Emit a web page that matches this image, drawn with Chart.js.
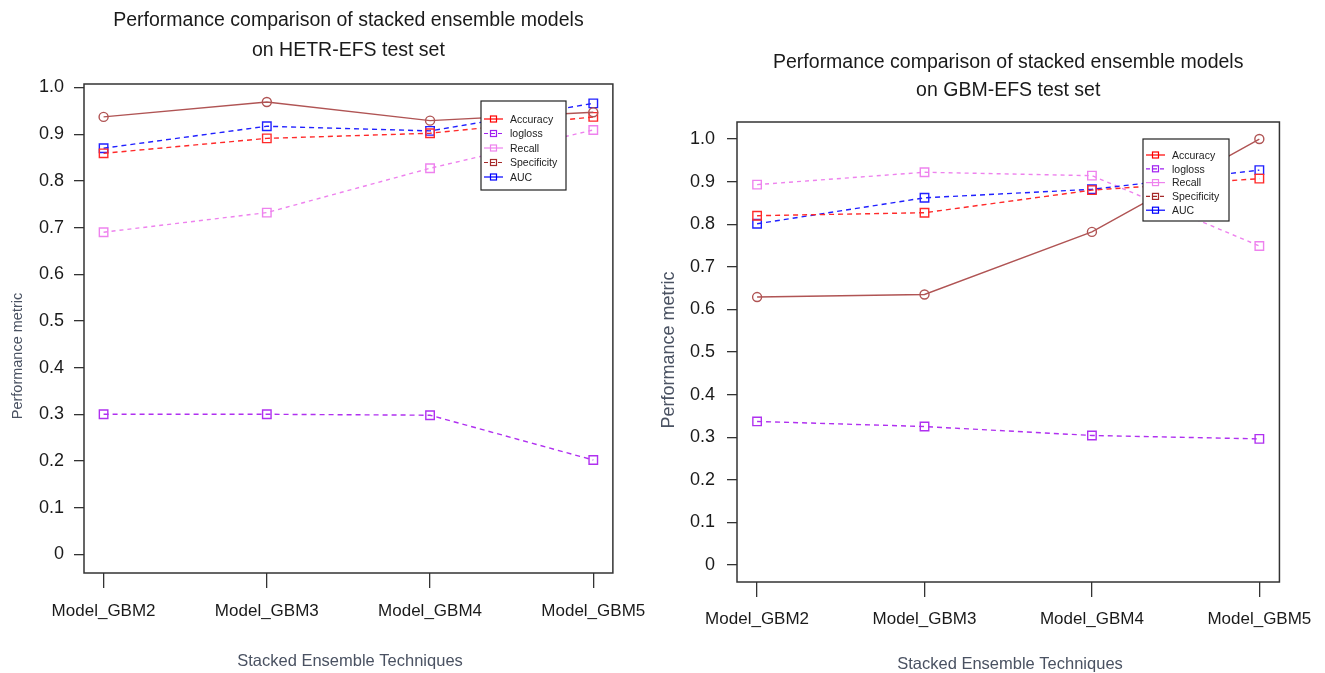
<!DOCTYPE html>
<html>
<head>
<meta charset="utf-8">
<script src="https://cdn.jsdelivr.net/npm/chart.js@4.4.1/dist/chart.umd.min.js"></script>
<style>
  html, body { margin: 0; padding: 0; background: #fff; }
  #wrap { position: relative; width: 1325px; height: 673px; overflow: hidden; }
  .box { position: absolute; top: 0; height: 673px; }
</style>
</head>
<body>
<div id="wrap">
  <div class="box" style="left:0;width:660px"><canvas id="hetrChart"></canvas></div>
  <div class="box" style="left:660px;width:665px"><canvas id="gbmChart"></canvas></div>
</div>
<script>
const categories = ['Model_GBM2', 'Model_GBM3', 'Model_GBM4', 'Model_GBM5'];
const seriesNames = ['Accuracy', 'logloss', 'Recall', 'Specificity', 'AUC'];
const yTickValues = [0, 0.1, 0.2, 0.3, 0.4, 0.5, 0.6, 0.7, 0.8, 0.9, 1.0];

// HETR-EFS test set
const hetrAccuracy = [0.937, 0.969, 0.929, 0.947];
const hetrLogloss = [0.300, 0.300, 0.298, 0.202];
const hetrRecall = [0.690, 0.732, 0.827, 0.909];
const hetrSpecificity = [0.859, 0.891, 0.902, 0.937];
const hetrAuc = [0.870, 0.917, 0.907, 0.966];

// GBM-EFS test set
const gbmAccuracy = [0.629, 0.635, 0.782, 1.0];
const gbmLogloss = [0.337, 0.325, 0.304, 0.296];
const gbmRecall = [0.893, 0.922, 0.914, 0.749];
const gbmSpecificity = [0.820, 0.827, 0.880, 0.907];
const gbmAuc = [0.801, 0.862, 0.882, 0.927];

// colours
const brown = '#b05454';
const red = '#ff2a2a';
const blue = '#2020ff';
const violet = '#ee82ee';
const purple = '#b030f0';
const axisColor = '#333333';
const sans = "'Liberation Sans', Arial, sans-serif";

// legend as it is printed on the figure
const legendColors = ['#ff0000', '#a020f0', '#ee82ee', '#a52a2a', '#0000ff'];
const legendDash = [[], [4, 3], [], [4, 3], []];

function toPoints(values) {
    return values.map((v, i) => ({ x: i, y: v }));
}

function makeSets(acc, loss, rec, spec, auc) {
    const dash = [5, 4];
    return [
        { label: seriesNames[0], data: toPoints(acc), borderColor: brown, pointStyle: 'circle', pointRadius: 4.5, borderDash: [] },
        { label: seriesNames[3], data: toPoints(spec), borderColor: red, pointStyle: 'rect', pointRadius: 6, borderDash: dash },
        { label: seriesNames[4], data: toPoints(auc), borderColor: blue, pointStyle: 'rect', pointRadius: 6, borderDash: dash },
        { label: seriesNames[2], data: toPoints(rec), borderColor: violet, pointStyle: 'rect', pointRadius: 6, borderDash: [4, 4] },
        { label: seriesNames[1], data: toPoints(loss), borderColor: purple, pointStyle: 'rect', pointRadius: 6, borderDash: dash }
    ].map(d => Object.assign(d, {
        borderWidth: 1.4,
        pointBorderColor: d.borderColor,
        pointBackgroundColor: 'rgba(0,0,0,0)',
        pointBorderWidth: 1.4,
        tension: 0,
        fill: false
    }));
}

// box, axis titles and legend drawn the way R does it
const framePlugin = {
    id: 'frame',
    afterDraw(chart, args, o) {
        const ctx = chart.ctx;
        const a = chart.chartArea;
        ctx.save();
        ctx.strokeStyle = axisColor;
        ctx.lineWidth = 1.5;
        ctx.strokeRect(a.left, a.top, a.right - a.left, a.bottom - a.top);

        ctx.fillStyle = '#4a5262';
        ctx.font = '16.5px ' + sans;
        ctx.textAlign = 'center';
        ctx.textBaseline = 'middle';
        ctx.fillText('Stacked Ensemble Techniques', o.xTitle[0], o.xTitle[1]);

        ctx.save();
        ctx.translate(o.yTitle[0], o.yTitle[1]);
        ctx.rotate(-Math.PI / 2);
        ctx.font = o.yTitleSize + 'px ' + sans;
        ctx.fillText('Performance metric', 0, 0);
        ctx.restore();

        // legend
        const L = o.legend;
        ctx.fillStyle = '#fff';
        ctx.fillRect(L.x, L.y, L.w, L.h);
        ctx.strokeStyle = '#222';
        ctx.lineWidth = 1.2;
        ctx.strokeRect(L.x, L.y, L.w, L.h);
        ctx.font = '10.5px ' + sans;
        ctx.textAlign = 'left';
        seriesNames.forEach((name, i) => {
            const y = L.y + L.first + i * L.step;
            ctx.strokeStyle = legendColors[i];
            ctx.lineWidth = 1.2;
            ctx.setLineDash(legendDash[i]);
            ctx.beginPath();
            ctx.moveTo(L.x + 3, y);
            ctx.lineTo(L.x + 22, y);
            ctx.stroke();
            ctx.setLineDash([]);
            ctx.strokeRect(L.x + 9.5, y - 3, 6, 6);
            ctx.fillStyle = '#222';
            ctx.fillText(name, L.x + 29, y + 1);
        });
        ctx.restore();
    }
};

function makeChart(id, sets, titleLines, lay) {
    new Chart(document.getElementById(id), {
        type: 'line',
        data: { datasets: sets },
        plugins: [framePlugin],
        options: {
            responsive: true,
            maintainAspectRatio: false,
            animation: false,
            layout: { padding: { left: 0, right: lay.padRight, top: 0, bottom: 0 } },
            scales: {
                x: {
                    type: 'linear',
                    min: -0.12,
                    max: 3.12,
                    afterBuildTicks: s => { s.ticks = categories.map((c, i) => ({ value: i })); },
                    afterFit: s => { s.height = lay.xHeight; },
                    grid: { drawOnChartArea: false, drawTicks: true, tickLength: 15, color: axisColor, lineWidth: 1.3 },
                    border: { display: false },
                    ticks: {
                        autoSkip: false, maxRotation: 0, padding: lay.xPad,
                        color: '#1a1a1a', font: { family: sans, size: 17 },
                        callback: v => categories[v]
                    }
                },
                y: {
                    type: 'linear',
                    min: -0.04,
                    max: lay.yMax,
                    afterBuildTicks: s => { s.ticks = yTickValues.map(v => ({ value: v })); },
                    afterFit: s => { s.width = lay.yWidth; },
                    grid: { drawOnChartArea: false, drawTicks: true, tickLength: 10, color: axisColor, lineWidth: 1.3 },
                    border: { display: false },
                    ticks: {
                        padding: lay.yPad,
                        color: '#1a1a1a', font: { family: sans, size: 18 },
                        callback: v => (v === 0 ? '0' : v.toFixed(1))
                    }
                }
            },
            plugins: {
                legend: { display: false },
                tooltip: { enabled: false },
                title: {
                    display: true,
                    fullSize: false,
                    text: titleLines,
                    color: '#1a1a1a',
                    font: { family: sans, size: 19.5, weight: 'normal', lineHeight: lay.titleLH + 'px' },
                    padding: { top: lay.titleTop, bottom: lay.titleBottom }
                },
                frame: { xTitle: lay.xTitle, yTitle: lay.yTitle, yTitleSize: lay.yTitleSize, legend: lay.legend }
            }
        }
    });
}

makeChart('hetrChart',
    makeSets(hetrAccuracy, hetrLogloss, hetrRecall, hetrSpecificity, hetrAuc),
    ['Performance comparison of stacked ensemble models', 'on HETR-EFS test set'],
    {
        padRight: 45, xHeight: 100, yWidth: 84, xPad: 13, yPad: 10, yMax: 1.0075,
        titleLH: 30, titleTop: 6, titleBottom: 18,
        xTitle: [350, 661], yTitle: [18, 356], yTitleSize: 14.5,
        legend: { x: 481, y: 101, w: 85, h: 89, first: 18, step: 14.5 }
    });

makeChart('gbmChart',
    makeSets(gbmAccuracy, gbmLogloss, gbmRecall, gbmSpecificity, gbmAuc),
    ['Performance comparison of stacked ensemble models', 'on GBM-EFS test set'],
    {
        padRight: 42, xHeight: 91, yWidth: 77, xPad: 12, yPad: 12, yMax: 1.04,
        titleLH: 28, titleTop: 49, titleBottom: 17,
        xTitle: [350, 664], yTitle: [9, 350], yTitleSize: 18,
        legend: { x: 1143 - 660, y: 139, w: 86, h: 82, first: 16, step: 13.8 }
    });
</script>
</body>
</html>
